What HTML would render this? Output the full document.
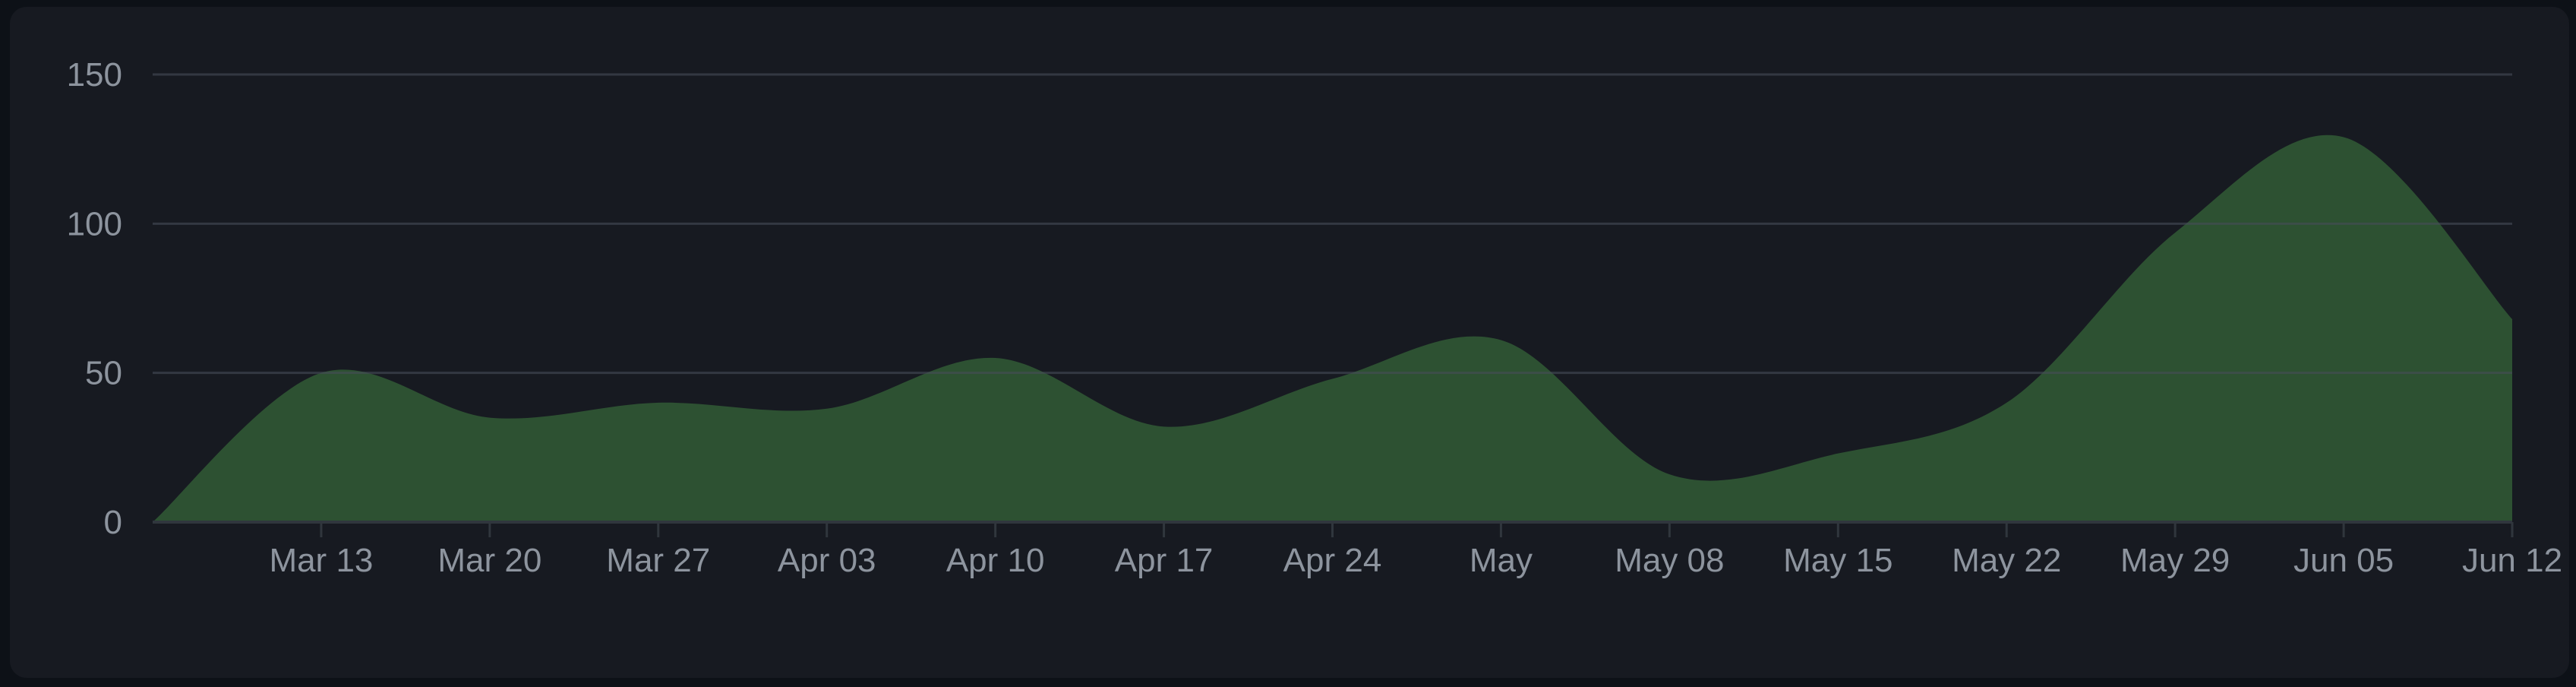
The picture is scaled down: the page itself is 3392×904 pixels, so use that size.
<!DOCTYPE html>
<html><head><meta charset="utf-8">
<style>
html,body{margin:0;padding:0;background:#0d1117;width:3392px;height:904px;overflow:hidden}
#card{position:absolute;left:13px;top:9px;width:3370px;height:883px;background:#171a21;border-radius:22px}
svg{position:absolute;left:0;top:0}
text{font-family:"Liberation Sans",sans-serif;font-size:44px;fill:#8d949e}
</style></head><body>
<div id="card"></div>
<svg id="chart" width="3392" height="904"></svg>
<script>
const dates = ["Mar 06","Mar 13","Mar 20","Mar 27","Apr 03","Apr 10","Apr 17","Apr 24","May 01","May 08","May 15","May 22","May 29","Jun 05","Jun 12"];
const values = [0,50,35,40,38,55,32,48,61,16,23,40,97,129,68];
const yTicks = [0,50,100,150];
const xTickLabels = ["Mar 13","Mar 20","Mar 27","Apr 03","Apr 10","Apr 17","Apr 24","May","May 08","May 15","May 22","May 29","Jun 05","Jun 12"];
const xTickIndex = [1,2,3,4,5,6,7,8,9,10,11,12,13,14];

const NS="http://www.w3.org/2000/svg";
const svg=document.getElementById('chart');
const X0=201,X1=3308,Y0=687,Y150=98;
const x=i=>X0+(X1-X0)*i/(values.length-1);
const y=v=>Y0-(Y0-Y150)*v/150;
function mk(t,a){const e=document.createElementNS(NS,t);for(const k in a)e.setAttribute(k,a[k]);svg.appendChild(e);return e;}

// catmull-rom area
const pts=values.map((v,i)=>[x(i),y(v)]);
let d=`M${pts[0][0]},${pts[0][1]}`;
for(let i=0;i<pts.length-1;i++){
  const p0=pts[Math.max(0,i-1)],p1=pts[i],p2=pts[i+1],p3=pts[Math.min(pts.length-1,i+2)];
  const c1=[p1[0]+(p2[0]-p0[0])/6,p1[1]+(p2[1]-p0[1])/6];
  const c2=[p2[0]-(p3[0]-p1[0])/6,p2[1]-(p3[1]-p1[1])/6];
  d+=`C${c1[0]},${Math.min(Y0,c1[1])} ${c2[0]},${Math.min(Y0,c2[1])} ${p2[0]},${p2[1]}`;
}
d+=`L${X1},${Y0}L${X0},${Y0}Z`;
const area=mk('path',{d:d,fill:'#2d5132'});



yTicks.forEach(t=>{
  const l=mk('line',{x1:X0,x2:X1,y1:y(t),y2:y(t),stroke:t===0?'#30363d':'rgba(70,76,88,0.6)','stroke-width':t===0?4:3});
  
  
  const tx=mk('text',{x:161,y:y(t)+15,'text-anchor':'end'});tx.textContent=t;
  
  
});

xTickIndex.forEach((idx,k)=>{
  const tk=mk('line',{x1:x(idx),x2:x(idx),y1:Y0,y2:Y0+20,stroke:'#30363d','stroke-width':3});
  
  
  const tx=mk('text',{x:x(idx),y:752,'text-anchor':'middle'});tx.textContent=xTickLabels[k];
  
  
});
</script>
</body></html>
